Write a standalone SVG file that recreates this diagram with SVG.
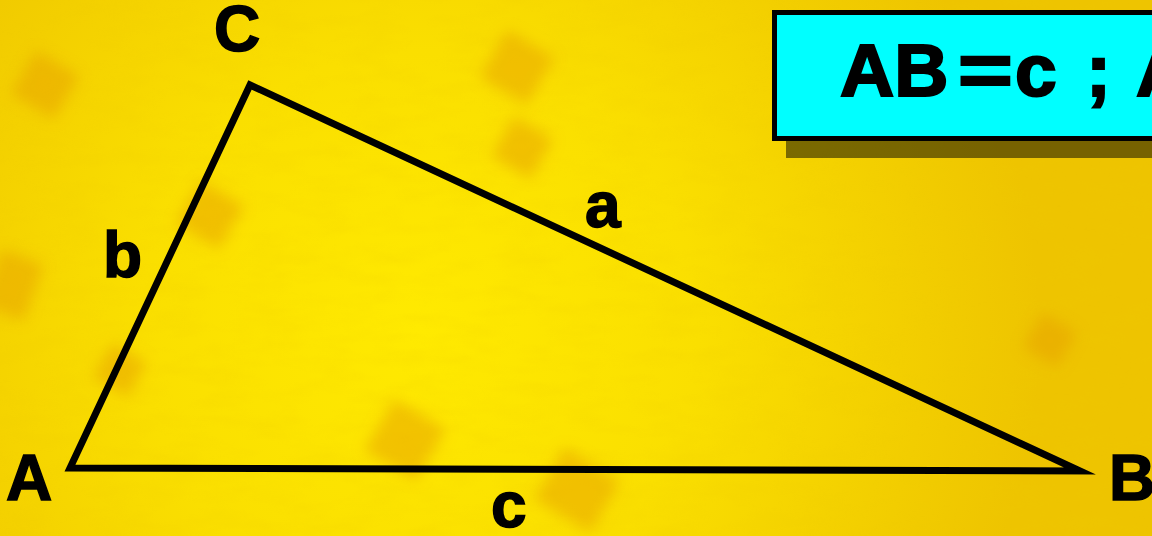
<svg xmlns="http://www.w3.org/2000/svg" width="1152" height="536" viewBox="0 0 1152 536">
<defs>
<radialGradient id="glow" cx="420" cy="330" r="620" gradientUnits="userSpaceOnUse">
<stop offset="0" stop-color="#ffea00"/>
<stop offset="0.45" stop-color="#fadf00"/>
<stop offset="1" stop-color="#eec400"/>
</radialGradient>
<filter id="blur" x="-50%" y="-50%" width="200%" height="200%"><feGaussianBlur stdDeviation="7"/></filter>
<filter id="grain" x="0" y="0" width="100%" height="100%">
<feTurbulence type="fractalNoise" baseFrequency="0.02 0.06" numOctaves="3" seed="4" result="n"/>
<feColorMatrix in="n" type="matrix" values="0 0 0 0 0.85  0 0 0 0 0.6  0 0 0 0 0  0 0 0 0.9 -0.35"/>
</filter>
<style>
.lbl{font-family:"Liberation Sans",Arial,sans-serif;font-weight:bold;fill:#000;stroke:#000;stroke-width:1.5}
.big{stroke-width:2.2}
.edge{fill:none;stroke:#000;stroke-width:7;stroke-linejoin:miter;stroke-miterlimit:10}
.blot{fill:#e8a000;opacity:0.5}
</style>
</defs>
<rect x="0" y="0" width="1152" height="536" fill="url(#glow)"/>
<rect x="0" y="0" width="1152" height="536" filter="url(#grain)" opacity="0.35"/>
<g filter="url(#blur)">
<rect class="blot" x="20" y="60" width="50" height="50" transform="rotate(30 45 85)"/>
<rect class="blot" x="490" y="40" width="55" height="55" transform="rotate(30 517 67)"/>
<rect class="blot" x="185" y="190" width="50" height="50" transform="rotate(30 210 215)"/>
<rect class="blot" x="-10" y="255" width="45" height="60" transform="rotate(20 12 285)"/>
<rect class="blot" x="100" y="350" width="40" height="40" transform="rotate(30 120 370)"/>
<rect class="blot" x="375" y="410" width="60" height="60" transform="rotate(30 405 440)"/>
<rect class="blot" x="545" y="460" width="65" height="60" transform="rotate(30 577 490)"/>
<rect class="blot" x="500" y="125" width="45" height="45" transform="rotate(30 522 147)"/>
<rect class="blot" x="1030" y="320" width="40" height="40" transform="rotate(30 1050 340)" opacity="0.3"/>
</g>
<g id="connectors">
<polygon class="edge" points="70,468 250,85 1080,471"/>
</g>
<g id="label-box">
<rect x="786" y="29" width="400" height="129" fill="#000" opacity="0.5"/>
<rect x="774.5" y="12.5" width="400" height="126" fill="#00ffff" stroke="#000" stroke-width="5"/>
<text class="lbl big" font-size="75" x="840" y="96" xml:space="preserve">AB<tspan x="1015">c</tspan><tspan x="1086">;</tspan><tspan x="1136">A</tspan></text>
<text class="lbl big" font-size="75" transform="translate(958,96) scale(1.25,1)" x="0" y="0">=</text>
</g>
<g id="node-A"><text class="lbl" font-size="64" x="6" y="500">A</text></g>
<g id="node-B"><text class="lbl" font-size="64" x="1109" y="500">B</text></g>
<g id="node-C"><text class="lbl" font-size="64" x="214" y="51">C</text></g>
<g id="label-a"><text class="lbl" font-size="64" x="585" y="227">a</text></g>
<g id="label-b"><text class="lbl" font-size="64" x="103" y="277">b</text></g>
<g id="label-c"><text class="lbl" font-size="64" x="491" y="527">c</text></g>
</svg>
